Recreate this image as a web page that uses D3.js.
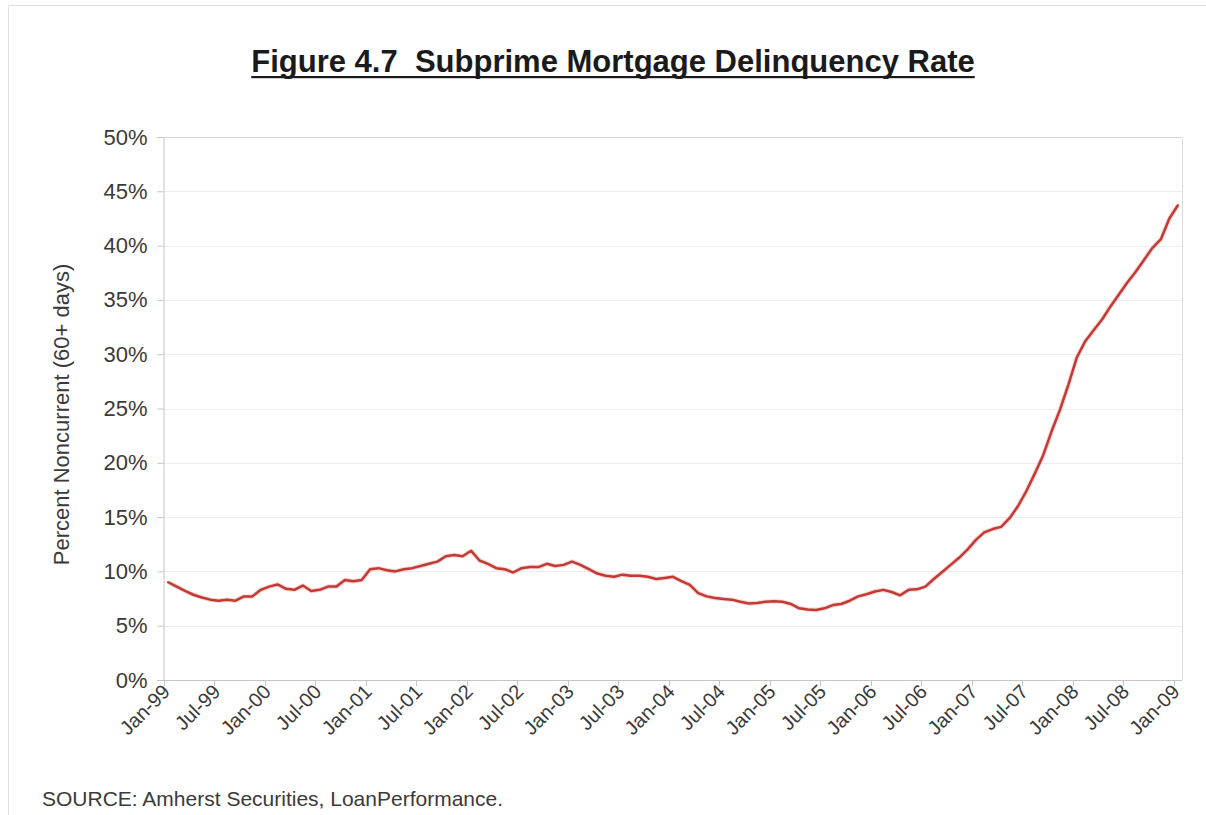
<!DOCTYPE html>
<html>
<head>
<meta charset="utf-8">
<script src="https://cdn.jsdelivr.net/npm/d3@7"></script>
<style>
  html, body { margin: 0; padding: 0; background: #ffffff; }
  svg { display: block; font-family: "Liberation Sans", Arial, sans-serif; }
</style>
</head>
<body>
<svg id="chart" width="1206" height="815"></svg>
<script>
// Monthly categories, Jan-99 through Jan-09
const months = d3.timeMonth
  .range(new Date(1999, 0, 1), new Date(2009, 1, 1))
  .map(d3.timeFormat("%b-%y"));

// Subprime 60+ day delinquency rate, percent
const delinquencyRate = [
  9.0, 8.6, 8.2, 7.85, 7.6, 7.4, 7.3, 7.4, 7.3, 7.7, 7.7, 8.3,
  8.6, 8.8, 8.4, 8.3, 8.7, 8.2, 8.3, 8.6, 8.6, 9.2, 9.1, 9.2,
  10.2, 10.3, 10.1, 10.0, 10.2, 10.3, 10.5, 10.7, 10.9, 11.4, 11.5, 11.4,
  11.9, 11.0, 10.7, 10.3, 10.2, 9.9, 10.3, 10.4, 10.4, 10.7, 10.5, 10.6,
  10.9, 10.6, 10.2, 9.8, 9.6, 9.5, 9.7, 9.6, 9.6, 9.5, 9.3, 9.4,
  9.5, 9.1, 8.75, 8.0, 7.7, 7.55, 7.45, 7.4, 7.2, 7.05, 7.1, 7.2,
  7.25, 7.2, 7.0, 6.6, 6.5, 6.45, 6.6, 6.9, 7.0, 7.3, 7.7, 7.9,
  8.15, 8.3, 8.1, 7.8, 8.3, 8.35, 8.6, 9.3, 9.95, 10.6, 11.25, 12.0,
  12.9, 13.6, 13.9, 14.1, 14.9, 16.0, 17.4, 19.0, 20.7, 22.9, 24.9, 27.2,
  29.7, 31.2, 32.2, 33.2, 34.4, 35.5, 36.6, 37.6, 38.7, 39.8, 40.6, 42.5,
  43.7
];

// Axis ticks
const yTicks = [0, 5, 10, 15, 20, 25, 30, 35, 40, 45, 50];
const labelEvery = 6;
const xLabels = months.filter((m, i) => i % labelEvery === 0);

const titleText = "Figure 4.7  Subprime Mortgage Delinquency Rate";
const yTitleText = "Percent Noncurrent (60+ days)";
const sourceText = "SOURCE: Amherst Securities, LoanPerformance.";

const svg = d3.select("#chart");
const plot = { left: 164, right: 1182, top: 137, bottom: 680 };

// Outer chart frame
svg.append("path")
  .attr("d", `M8.5,815 V5.5 H1206`)
  .attr("fill", "none")
  .attr("stroke", "#e2e2e2")
  .attr("stroke-width", 1);

const x = d3.scaleBand()
  .domain(months)
  .range([plot.left, plot.right])
  .paddingInner(0)
  .paddingOuter(0);

const y = d3.scaleLinear()
  .domain([0, 50])
  .range([plot.bottom, plot.top]);

// Horizontal gridlines
svg.append("g")
  .selectAll("line")
  .data(yTicks.filter(t => t > 0 && t < 50))
  .join("line")
  .attr("x1", plot.left)
  .attr("x2", plot.right)
  .attr("y1", d => Math.round(y(d)) + 0.5)
  .attr("y2", d => Math.round(y(d)) + 0.5)
  .attr("stroke", "#ededed")
  .attr("stroke-width", 1);

// Plot area border (top and right)
svg.append("path")
  .attr("d", `M${plot.left},${plot.top + 0.5} H${plot.right + 0.5} V${plot.bottom}`)
  .attr("fill", "none")
  .attr("stroke", "#dadada")
  .attr("stroke-width", 1);

// Y axis
const yAxis = d3.axisLeft(y)
  .tickValues(yTicks)
  .tickFormat(d => d + "%")
  .tickSize(6)
  .tickPadding(10);

const gy = svg.append("g")
  .attr("transform", `translate(${plot.left - 0.5},0)`)
  .call(yAxis);
gy.select(".domain").attr("stroke", "#c4c4c4");
gy.selectAll(".tick line").attr("stroke", "#c4c4c4");
gy.selectAll(".tick text")
  .attr("fill", "#3a3a3a")
  .attr("font-size", 22)
  .attr("font-family", "'Liberation Sans', Arial, sans-serif");

// X axis line and tick marks at category boundaries
const gx = svg.append("g");
gx.append("line")
  .attr("x1", plot.left)
  .attr("x2", plot.right)
  .attr("y1", plot.bottom + 0.5)
  .attr("y2", plot.bottom + 0.5)
  .attr("stroke", "#c4c4c4");

gx.selectAll(".xtick")
  .data(xLabels)
  .join("line")
  .attr("class", "xtick")
  .attr("x1", d => Math.round(x(d)) + 0.5)
  .attr("x2", d => Math.round(x(d)) + 0.5)
  .attr("y1", plot.bottom)
  .attr("y2", plot.bottom + 6)
  .attr("stroke", "#c4c4c4");

gx.selectAll(".xlabel")
  .data(xLabels)
  .join("text")
  .attr("class", "xlabel")
  .attr("text-anchor", "end")
  .attr("transform", d => `translate(${x(d) + x.bandwidth() / 2 + 3},${plot.bottom + 13}) rotate(-45)`)
  .attr("fill", "#3a3a3a")
  .attr("font-size", 20)
  .text(d => d);

// Delinquency line
const line = d3.line()
  .x((d, i) => x(months[i]) + x.bandwidth() / 2)
  .y(d => y(d))
  .curve(d3.curveLinear);

svg.append("path")
  .datum(delinquencyRate)
  .attr("d", line)
  .attr("fill", "none")
  .attr("stroke", "#f0a0a0")
  .attr("stroke-width", 4.5)
  .attr("stroke-opacity", 0.45)
  .attr("stroke-linejoin", "round");

svg.append("path")
  .datum(delinquencyRate)
  .attr("d", line)
  .attr("fill", "none")
  .attr("stroke", "#c23a33")
  .attr("stroke-width", 2.5)
  .attr("stroke-linejoin", "round")
  .attr("stroke-linecap", "round");

// Y axis title
svg.append("text")
  .attr("transform", `translate(69,${(plot.top + plot.bottom) / 2 + 6}) rotate(-90)`)
  .attr("text-anchor", "middle")
  .attr("fill", "#3a3a3a")
  .attr("font-size", 22)
  .text(yTitleText);

// Title with underline
const title = svg.append("text")
  .attr("x", 613)
  .attr("y", 72)
  .attr("text-anchor", "middle")
  .attr("font-weight", "bold")
  .attr("font-size", 31)
  .attr("fill", "#1a1a1a")
  .style("white-space", "pre")
  .text(titleText);
const tb = title.node().getBBox();
svg.append("rect")
  .attr("x", tb.x)
  .attr("y", 76)
  .attr("width", tb.width)
  .attr("height", 2.2)
  .attr("fill", "#1a1a1a");

// Source note
svg.append("text")
  .attr("x", 42)
  .attr("y", 806)
  .attr("fill", "#3a3a3a")
  .attr("font-size", 21)
  .text(sourceText);
</script>
</body>
</html>
